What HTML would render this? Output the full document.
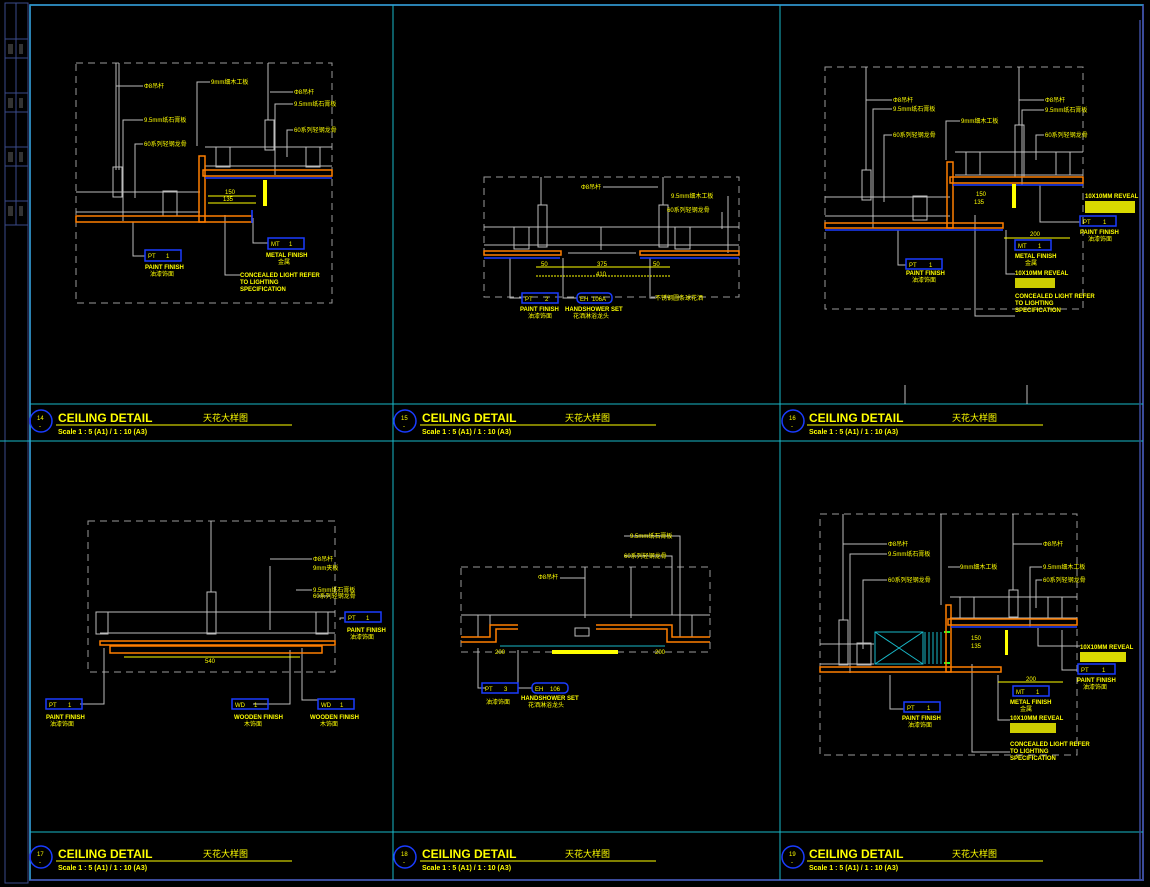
<!DOCTYPE html>
<html><head><meta charset="utf-8"><style>
html,body{margin:0;padding:0;background:#000;}
svg{display:block}
text{font-family:"Liberation Sans","Noto Sans CJK SC",sans-serif;fill:#ffff00}
.t{font-size:6px}
.h{font-size:12px;font-weight:bold}
.s{font-size:7px;font-weight:bold}
.n{font-size:6px;fill:#ffff00}
.g{stroke:#bdbdbd;fill:none;stroke-width:1}
.d{stroke:#9a9a9a;fill:none;stroke-width:1;stroke-dasharray:7,5}
.o{stroke:#ff7f00;fill:none;stroke-width:1.5}
.b{stroke:#1a3cff;fill:none;stroke-width:1.6}
.c{stroke:#19b8c8;fill:none;stroke-width:1}
.y{stroke:#ffff00;fill:none;stroke-width:1}
.bx{stroke:#1a3cff;fill:none;stroke-width:1.5}
</style></head><body>
<svg width="1150" height="887" viewBox="0 0 1150 887" xmlns="http://www.w3.org/2000/svg">
<!-- left strip -->
<g stroke="#3a4a8a" fill="none">
<rect x="5" y="3" width="23" height="880"/>
<line x1="16" y1="3" x2="16" y2="225"/>
<line x1="5" y1="39" x2="28" y2="39"/><line x1="5" y1="58" x2="28" y2="58"/>
<line x1="5" y1="93" x2="28" y2="93"/><line x1="5" y1="112" x2="28" y2="112"/>
<line x1="5" y1="147" x2="28" y2="147"/><line x1="5" y1="166" x2="28" y2="166"/>
<line x1="5" y1="201" x2="28" y2="201"/><line x1="5" y1="225" x2="28" y2="225"/>
</g>
<g fill="#333"><rect x="8" y="44" width="5" height="10"/><rect x="19" y="44" width="4" height="10"/><rect x="8" y="98" width="5" height="10"/><rect x="19" y="98" width="4" height="10"/><rect x="8" y="152" width="5" height="10"/><rect x="19" y="152" width="4" height="10"/><rect x="8" y="206" width="5" height="10"/><rect x="19" y="206" width="4" height="10"/></g>
<!-- frame -->
<rect x="30" y="5" width="1113" height="875" fill="none" stroke="#3a4a9a" stroke-width="2"/>
<g class="c" stroke-width="1.3">
<line x1="30" y1="5" x2="30" y2="880"/>
<line x1="393" y1="5" x2="393" y2="880"/>
<line x1="780" y1="5" x2="780" y2="880"/>
<line x1="30" y1="5" x2="1143" y2="5"/>
<line x1="30" y1="404" x2="1143" y2="404"/>
<line x1="0" y1="441" x2="1143" y2="441"/>
<line x1="30" y1="832" x2="1143" y2="832"/>
</g>
<g stroke="#3a4a9a" stroke-width="1.5"><line x1="1140" y1="20" x2="1140" y2="880"/></g>

<!-- title blocks -->
<g>
<circle cx="41" cy="421" r="11" class="bx"/><text x="37" y="420" class="n">14</text><text x="39" y="428" class="n">-</text>
<text x="58" y="422" class="h">CEILING DETAIL</text><text x="203" y="421" class="t" style="font-size:9px">天花大样图</text>
<line x1="56" y1="425" x2="292" y2="425" class="y"/><text x="58" y="434" class="s">Scale 1 : 5 (A1) / 1 : 10 (A3)</text>
<circle cx="405" cy="421" r="11" class="bx"/><text x="401" y="420" class="n">15</text><text x="403" y="428" class="n">-</text>
<text x="422" y="422" class="h">CEILING DETAIL</text><text x="565" y="421" class="t" style="font-size:9px">天花大样图</text>
<line x1="420" y1="425" x2="656" y2="425" class="y"/><text x="422" y="434" class="s">Scale 1 : 5 (A1) / 1 : 10 (A3)</text>
<circle cx="793" cy="421" r="11" class="bx"/><text x="789" y="420" class="n">16</text><text x="791" y="428" class="n">-</text>
<text x="809" y="422" class="h">CEILING DETAIL</text><text x="952" y="421" class="t" style="font-size:9px">天花大样图</text>
<line x1="807" y1="425" x2="1043" y2="425" class="y"/><text x="809" y="434" class="s">Scale 1 : 5 (A1) / 1 : 10 (A3)</text>

<circle cx="41" cy="857" r="11" class="bx"/><text x="37" y="856" class="n">17</text><text x="39" y="864" class="n">-</text>
<text x="58" y="858" class="h">CEILING DETAIL</text><text x="203" y="857" class="t" style="font-size:9px">天花大样图</text>
<line x1="56" y1="861" x2="292" y2="861" class="y"/><text x="58" y="870" class="s">Scale 1 : 5 (A1) / 1 : 10 (A3)</text>
<circle cx="405" cy="857" r="11" class="bx"/><text x="401" y="856" class="n">18</text><text x="403" y="864" class="n">-</text>
<text x="422" y="858" class="h">CEILING DETAIL</text><text x="565" y="857" class="t" style="font-size:9px">天花大样图</text>
<line x1="420" y1="861" x2="656" y2="861" class="y"/><text x="422" y="870" class="s">Scale 1 : 5 (A1) / 1 : 10 (A3)</text>
<circle cx="793" cy="857" r="11" class="bx"/><text x="789" y="856" class="n">19</text><text x="791" y="864" class="n">-</text>
<text x="809" y="858" class="h">CEILING DETAIL</text><text x="952" y="857" class="t" style="font-size:9px">天花大样图</text>
<line x1="807" y1="861" x2="1043" y2="861" class="y"/><text x="809" y="870" class="s">Scale 1 : 5 (A1) / 1 : 10 (A3)</text>
</g>

<!-- P1 -->
<rect x="76" y="63" width="256" height="240" class="d"/>
<g class="g">
<line x1="116" y1="63" x2="116" y2="170"/><line x1="119" y1="63" x2="119" y2="170"/>
<rect x="113" y="167" width="9" height="30"/>
<line x1="268" y1="63" x2="268" y2="120"/><rect x="265" y="120" width="9" height="30"/>
<line x1="76" y1="192" x2="200" y2="192"/><line x1="76" y1="212" x2="200" y2="212"/>
<rect x="163" y="191" width="14" height="25"/>
<line x1="205" y1="147" x2="332" y2="147"/><line x1="205" y1="166" x2="332" y2="166"/>
<rect x="216" y="147" width="14" height="20"/><rect x="306" y="147" width="14" height="20"/>
<polyline points="116,86 143,86"/><polyline points="123,221 123,120 143,120"/><polyline points="135,198 135,144 143,144"/>
<polyline points="197,146 197,82 210,82"/><polyline points="270,92 293,92"/><polyline points="275,175 275,104 293,104"/><polyline points="287,157 287,130 293,130"/>
<polyline points="133,222 133,256 145,256"/><polyline points="253,218 253,243 268,243"/><polyline points="225,215 225,275 240,275"/>
</g>
<rect x="76" y="216" width="176" height="6" class="o"/>
<rect x="203" y="170" width="129" height="6" class="o"/>
<rect x="199" y="156" width="6" height="66" class="o"/>
<line x1="205" y1="178" x2="332" y2="178" class="b"/><line x1="252" y1="210" x2="252" y2="223" class="b"/>
<rect x="263" y="180" width="4" height="26" fill="#ff0"/>
<line x1="208" y1="196" x2="256" y2="196" class="y"/><line x1="208" y1="203" x2="256" y2="203" class="y"/>
<text x="225" y="194" class="t">150</text><text x="223" y="201" class="t">135</text>
<text x="144" y="88" class="t">Φ8吊杆</text><text x="144" y="122" class="t">9.5mm纸石膏板</text><text x="144" y="146" class="t">60系列轻钢龙骨</text>
<text x="211" y="84" class="t">9mm细木工板</text><text x="294" y="94" class="t">Φ8吊杆</text><text x="294" y="106" class="t">9.5mm纸石膏板</text><text x="294" y="132" class="t">60系列轻钢龙骨</text>
<rect x="145" y="250" width="36" height="11" class="bx"/><text x="148" y="258" class="t">PT</text><text x="166" y="258" class="t">1</text>
<text x="145" y="269" class="t" style="font-weight:bold">PAINT FINISH</text><text x="150" y="276" class="t">油漆饰面</text>
<rect x="268" y="238" width="36" height="11" class="bx"/><text x="271" y="246" class="t">MT</text><text x="289" y="246" class="t">1</text>
<text x="266" y="257" class="t" style="font-weight:bold">METAL FINISH</text><text x="278" y="264" class="t">金属</text>
<text x="240" y="277" class="t" style="font-weight:bold">CONCEALED LIGHT REFER</text><text x="240" y="284" class="t" style="font-weight:bold">TO LIGHTING</text><text x="240" y="291" class="t" style="font-weight:bold">SPECIFICATION</text>

<!-- P2 -->
<rect x="484" y="177" width="255" height="120" class="d"/>
<g class="g">
<line x1="541" y1="177" x2="541" y2="205"/><rect x="538" y="205" width="9" height="42"/>
<line x1="663" y1="177" x2="663" y2="205"/><rect x="659" y="205" width="9" height="42"/>
<line x1="484" y1="227" x2="739" y2="227"/><line x1="484" y1="245" x2="739" y2="245"/>
<rect x="514" y="227" width="15" height="22"/><rect x="675" y="227" width="15" height="22"/>
<line x1="601" y1="227" x2="601" y2="250"/><line x1="568" y1="253" x2="636" y2="253"/>
<polyline points="603,187 658,187"/><polyline points="728,196 728,253"/><polyline points="722,212 722,229"/>
<polyline points="510,258 510,298 522,298"/><polyline points="563,258 563,298 577,298"/><polyline points="650,258 650,298 655,298"/>
</g>
<rect x="484" y="251" width="77" height="4" class="o"/><rect x="640" y="251" width="99" height="4" class="o"/>
<line x1="484" y1="258" x2="560" y2="258" class="b"/><line x1="640" y1="258" x2="739" y2="258" class="b"/>
<line x1="536" y1="267" x2="670" y2="267" class="y"/><line x1="536" y1="276" x2="670" y2="276" class="y" stroke-dasharray="2,1"/>
<text x="541" y="266" class="t">50</text><text x="597" y="266" class="t">375</text><text x="653" y="266" class="t">50</text><text x="596" y="276" class="t">410</text>
<text x="581" y="189" class="t">Φ8吊杆</text><text x="671" y="198" class="t">9.5mm细木工板</text><text x="667" y="212" class="t">60系列轻钢龙骨</text>
<rect x="522" y="293" width="36" height="10" class="bx"/><text x="525" y="301" class="t">PT</text><text x="545" y="301" class="t">2</text>
<text x="520" y="311" class="t" style="font-weight:bold">PAINT FINISH</text><text x="528" y="318" class="t">油漆饰面</text>
<rect x="577" y="293" width="35" height="10" rx="4" class="bx"/><text x="580" y="301" class="t">EH</text><text x="592" y="301" class="t">106A</text>
<text x="565" y="311" class="t" style="font-weight:bold">HANDSHOWER SET</text><text x="573" y="318" class="t">花洒淋浴龙头</text>
<text x="655" y="300" class="t">不锈钢圆条球花洒</text>

<!-- P3 -->
<rect x="825" y="67" width="258" height="242" class="d"/>
<g class="g">
<line x1="866" y1="67" x2="866" y2="170"/><rect x="862" y="170" width="9" height="30"/>
<line x1="1019" y1="67" x2="1019" y2="125"/><rect x="1015" y="125" width="9" height="52"/>
<line x1="825" y1="197" x2="950" y2="197"/><line x1="825" y1="216" x2="950" y2="216"/>
<rect x="913" y="196" width="14" height="24"/>
<line x1="955" y1="152" x2="1083" y2="152"/><line x1="955" y1="175" x2="1083" y2="175"/>
<rect x="966" y="152" width="14" height="23"/><rect x="1056" y="152" width="14" height="23"/>
<polyline points="866,100 892,100"/><polyline points="873,228 873,109 892,109"/><polyline points="884,202 884,135 892,135"/>
<polyline points="946,160 946,121 960,121"/><polyline points="1019,100 1044,100"/><polyline points="1022,185 1022,110 1044,110"/><polyline points="1036,160 1036,135 1044,135"/>
<polyline points="898,230 898,265 906,265"/><polyline points="1040,185 1040,222 1080,222"/><polyline points="1006,230 1006,274 1015,274"/><polyline points="975,215 975,316 1015,316"/>
</g>
<rect x="825" y="223" width="178" height="5" class="o"/><rect x="950" y="177" width="133" height="6" class="o"/><rect x="947" y="162" width="6" height="66" class="o"/>
<line x1="953" y1="185" x2="1083" y2="185" class="b"/><line x1="825" y1="230" x2="1003" y2="230" class="b"/>
<rect x="1012" y="184" width="4" height="24" fill="#ff0"/>
<line x1="1004" y1="238" x2="1070" y2="238" class="y"/><text x="1030" y="236" class="t">200</text><text x="976" y="196" class="t">150</text><text x="974" y="204" class="t">135</text>
<text x="893" y="102" class="t">Φ8吊杆</text><text x="893" y="111" class="t">9.5mm纸石膏板</text><text x="893" y="137" class="t">60系列轻钢龙骨</text>
<text x="961" y="123" class="t">9mm细木工板</text><text x="1045" y="102" class="t">Φ8吊杆</text><text x="1045" y="112" class="t">9.5mm纸石膏板</text><text x="1045" y="137" class="t">60系列轻钢龙骨</text>
<text x="1085" y="198" class="t" style="font-weight:bold">10X10MM REVEAL</text><rect x="1085" y="201" width="50" height="12" fill="#ff0" opacity=".85"/>
<rect x="1080" y="216" width="36" height="10" class="bx"/><text x="1083" y="224" class="t">PT</text><text x="1103" y="224" class="t">1</text>
<text x="1080" y="234" class="t" style="font-weight:bold">PAINT FINISH</text><text x="1088" y="241" class="t">油漆饰面</text>
<rect x="906" y="259" width="36" height="10" class="bx"/><text x="909" y="267" class="t">PT</text><text x="929" y="267" class="t">1</text>
<text x="906" y="275" class="t" style="font-weight:bold">PAINT FINISH</text><text x="912" y="282" class="t">油漆饰面</text>
<rect x="1015" y="240" width="36" height="10" class="bx"/><text x="1018" y="248" class="t">MT</text><text x="1038" y="248" class="t">1</text>
<text x="1015" y="258" class="t" style="font-weight:bold">METAL FINISH</text><text x="1025" y="265" class="t">金属</text>
<text x="1015" y="275" class="t" style="font-weight:bold">10X10MM REVEAL</text><rect x="1015" y="278" width="40" height="10" fill="#ff0" opacity=".8"/>
<text x="1015" y="298" class="t" style="font-weight:bold">CONCEALED LIGHT REFER</text><text x="1015" y="305" class="t" style="font-weight:bold">TO LIGHTING</text><text x="1015" y="312" class="t" style="font-weight:bold">SPECIFICATION</text>
<g class="g"><line x1="905" y1="385" x2="905" y2="404"/><line x1="1027" y1="385" x2="1027" y2="404"/></g>

<!-- P4 -->
<rect x="88" y="521" width="247" height="151" class="d"/>
<g class="g">
<line x1="211" y1="521" x2="211" y2="592"/><rect x="207" y="592" width="9" height="42"/>
<line x1="100" y1="612" x2="335" y2="612"/><line x1="100" y1="633" x2="335" y2="633"/>
<rect x="96" y="612" width="12" height="22"/><rect x="316" y="612" width="12" height="22"/>
<polyline points="270,559 312,559"/><polyline points="270,566 270,630"/><polyline points="296,590 312,590"/><polyline points="318,596 330,596"/>
<polyline points="104,648 104,704 80,704"/><polyline points="290,650 290,704 253,704"/><polyline points="302,648 302,700 318,700"/>
<polyline points="340,620 340,618 344,618"/>
</g>
<rect x="100" y="641" width="235" height="4" class="o"/><rect x="110" y="646" width="212" height="7" class="o"/>
<line x1="124" y1="657" x2="300" y2="657" class="y"/><text x="205" y="663" class="t">540</text>
<text x="313" y="561" class="t">Φ8吊杆</text><text x="313" y="570" class="t">9mm夹板</text><text x="313" y="592" class="t">9.5mm纸石膏板</text><text x="313" y="598" class="t">60系列轻钢龙骨</text>
<rect x="345" y="612" width="36" height="10" class="bx"/><text x="348" y="620" class="t">PT</text><text x="366" y="620" class="t">1</text>
<text x="347" y="632" class="t" style="font-weight:bold">PAINT FINISH</text><text x="350" y="639" class="t">油漆饰面</text>
<rect x="46" y="699" width="36" height="10" class="bx"/><text x="49" y="707" class="t">PT</text><text x="68" y="707" class="t">1</text>
<text x="46" y="719" class="t" style="font-weight:bold">PAINT FINISH</text><text x="50" y="726" class="t">油漆饰面</text>
<rect x="232" y="699" width="36" height="10" class="bx"/><text x="235" y="707" class="t">WD</text><text x="254" y="707" class="t">1</text>
<text x="234" y="719" class="t" style="font-weight:bold">WOODEN FINISH</text><text x="244" y="726" class="t">木饰面</text>
<rect x="318" y="699" width="36" height="10" class="bx"/><text x="321" y="707" class="t">WD</text><text x="340" y="707" class="t">1</text>
<text x="310" y="719" class="t" style="font-weight:bold">WOODEN FINISH</text><text x="320" y="726" class="t">木饰面</text>

<!-- P5 -->
<rect x="461" y="567" width="249" height="85" class="d"/>
<g class="g">
<line x1="585" y1="567" x2="585" y2="618"/><line x1="631" y1="567" x2="631" y2="618"/>
<line x1="461" y1="615" x2="710" y2="615"/><rect x="478" y="615" width="12" height="22"/><rect x="680" y="615" width="12" height="22"/>
<polyline points="560,578 585,578"/><polyline points="624,536 680,536 680,615"/><polyline points="624,556 672,556 672,615"/>
<polyline points="478,648 478,688 486,688"/><polyline points="518,650 518,688 532,688"/>
<rect x="575" y="628" width="14" height="8"/>
</g>
<polyline points="461,637 490,637 490,625 518,625" class="o"/><polyline points="461,642 496,642 496,629 518,629" class="o"/>
<polyline points="596,625 672,625 672,637 710,637" class="o"/><polyline points="596,629 667,629 667,642 710,642" class="o"/>
<line x1="500" y1="646" x2="665" y2="646" class="c"/>
<rect x="552" y="650" width="66" height="4" fill="#ff0"/>
<text x="495" y="654" class="t">200</text><text x="655" y="654" class="t">200</text>
<text x="538" y="579" class="t">Φ8吊杆</text><text x="630" y="538" class="t">9.5mm纸石膏板</text><text x="624" y="558" class="t">60系列轻钢龙骨</text>
<rect x="482" y="683" width="36" height="10" class="bx"/><text x="485" y="691" class="t">PT</text><text x="504" y="691" class="t">3</text>
<text x="486" y="704" class="t">油漆饰面</text>
<rect x="532" y="683" width="36" height="10" rx="4" class="bx"/><text x="535" y="691" class="t">EH</text><text x="550" y="691" class="t">106</text>
<text x="521" y="700" class="t" style="font-weight:bold">HANDSHOWER SET</text><text x="528" y="707" class="t">花洒淋浴龙头</text>

<!-- P6 -->
<rect x="820" y="514" width="257" height="241" class="d"/>
<g class="g">
<line x1="843" y1="514" x2="843" y2="620"/><rect x="839" y="620" width="9" height="45"/>
<line x1="941" y1="514" x2="941" y2="605"/>
<line x1="1013" y1="514" x2="1013" y2="590"/><rect x="1009" y="590" width="9" height="27"/>
<line x1="820" y1="644" x2="874" y2="644"/><line x1="820" y1="664" x2="874" y2="664"/>
<rect x="857" y="643" width="14" height="22"/>
<line x1="950" y1="597" x2="1077" y2="597"/><line x1="950" y1="618" x2="1077" y2="618"/>
<rect x="960" y="597" width="14" height="22"/><rect x="1048" y="597" width="14" height="22"/>
<polyline points="843,544 887,544"/><polyline points="850,673 850,554 887,554"/><polyline points="863,649 863,580 887,580"/>
<polyline points="948,567 960,567"/><polyline points="1030,627 1030,567 1042,567"/><polyline points="1036,608 1036,580 1042,580"/>
<polyline points="1013,544 1042,544"/>
<polyline points="890,675 890,709 904,709"/><polyline points="1038,628 1038,646 1080,646"/><polyline points="1062,630 1062,670 1077,670"/>
<polyline points="998,675 998,720 1010,720"/><polyline points="972,664 972,752 1010,752"/>
</g>
<g stroke="#19b8c8" fill="none"><rect x="875" y="632" width="48" height="32"/><line x1="875" y1="632" x2="923" y2="664"/><line x1="923" y1="632" x2="875" y2="664"/></g>
<g stroke="#19b8c8"><line x1="925" y1="632" x2="925" y2="664"/><line x1="929" y1="632" x2="929" y2="664"/><line x1="933" y1="632" x2="933" y2="664"/><line x1="937" y1="632" x2="937" y2="664"/><line x1="941" y1="632" x2="941" y2="664"/></g>
<line x1="944" y1="632" x2="950" y2="632" stroke="#2f2" stroke-width="2"/><line x1="944" y1="663" x2="950" y2="663" stroke="#2f2" stroke-width="2"/>
<rect x="820" y="667" width="181" height="5" class="o"/><rect x="948" y="619" width="129" height="6" class="o"/><rect x="946" y="605" width="5" height="67" class="o"/>
<line x1="951" y1="627" x2="1077" y2="627" class="b"/>
<rect x="1005" y="630" width="3" height="25" fill="#ff0"/>
<line x1="998" y1="682" x2="1063" y2="682" class="y"/><text x="1026" y="681" class="t">200</text><text x="971" y="640" class="t">150</text><text x="971" y="648" class="t">135</text>
<text x="888" y="546" class="t">Φ8吊杆</text><text x="888" y="556" class="t">9.5mm纸石膏板</text><text x="888" y="582" class="t">60系列轻钢龙骨</text>
<text x="960" y="569" class="t">9mm细木工板</text><text x="1043" y="546" class="t">Φ8吊杆</text><text x="1043" y="569" class="t">9.5mm细木工板</text><text x="1043" y="582" class="t">60系列轻钢龙骨</text>
<text x="1080" y="649" class="t" style="font-weight:bold">10X10MM REVEAL</text><rect x="1080" y="652" width="46" height="10" fill="#ff0" opacity=".85"/>
<rect x="1078" y="664" width="37" height="10" class="bx"/><text x="1081" y="672" class="t">PT</text><text x="1102" y="672" class="t">1</text>
<text x="1077" y="682" class="t" style="font-weight:bold">PAINT FINISH</text><text x="1083" y="689" class="t">油漆饰面</text>
<rect x="904" y="702" width="36" height="10" class="bx"/><text x="907" y="710" class="t">PT</text><text x="927" y="710" class="t">1</text>
<text x="902" y="720" class="t" style="font-weight:bold">PAINT FINISH</text><text x="908" y="727" class="t">油漆饰面</text>
<rect x="1013" y="686" width="36" height="10" class="bx"/><text x="1016" y="694" class="t">MT</text><text x="1036" y="694" class="t">1</text>
<text x="1010" y="704" class="t" style="font-weight:bold">METAL FINISH</text><text x="1020" y="711" class="t">金属</text>
<text x="1010" y="720" class="t" style="font-weight:bold">10X10MM REVEAL</text><rect x="1010" y="723" width="46" height="10" fill="#ff0" opacity=".8"/>
<text x="1010" y="746" class="t" style="font-weight:bold">CONCEALED LIGHT REFER</text><text x="1010" y="753" class="t" style="font-weight:bold">TO LIGHTING</text><text x="1010" y="760" class="t" style="font-weight:bold">SPECIFICATION</text>
</svg>
</body></html>
